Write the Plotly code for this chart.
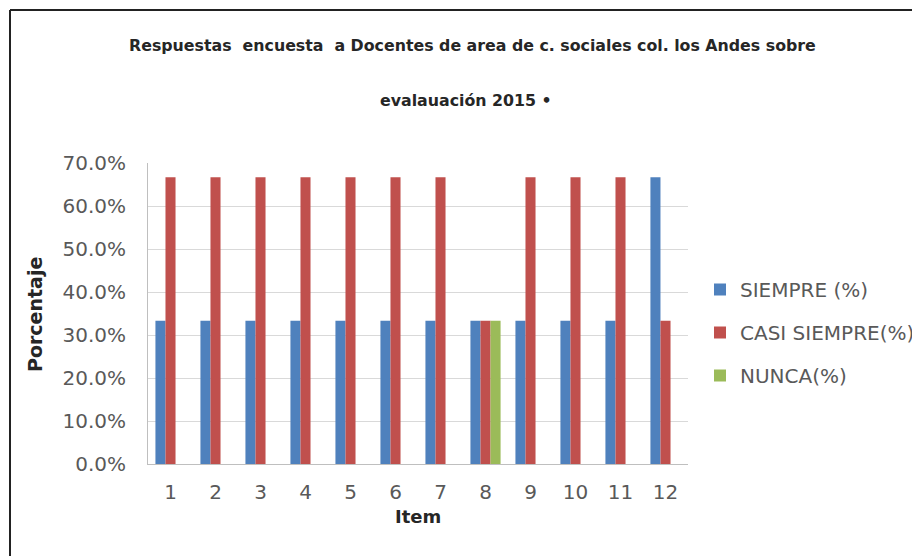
import plotly.graph_objects as go

items = [str(i) for i in range(1, 13)]
siempre = [0.333, 0.333, 0.333, 0.333, 0.333, 0.333, 0.333, 0.333, 0.333, 0.333, 0.333, 0.667]
casi_siempre = [0.667, 0.667, 0.667, 0.667, 0.667, 0.667, 0.667, 0.333, 0.667, 0.667, 0.667, 0.333]
nunca = [0, 0, 0, 0, 0, 0, 0, 0.333, 0, 0, 0, 0]
series_names = ["SIEMPRE (%)", "CASI SIEMPRE(%)", "NUNCA(%)"]
colors = ["#4F81BD", "#C0504D", "#9BBB59"]
yticks = [0, 0.1, 0.2, 0.3, 0.4, 0.5, 0.6, 0.7]

FONT = "DejaVu Sans"
TXT = "#595959"
DARK = "#262626"

# page body adds an 8px offset; work in screen pixels and subtract it
OFF = 8
W, H = 920 - OFF, 556 - OFF
L, R, T, B = 148 - OFF, 688 - OFF, 163 - OFF, 464 - OFF
pw, ph = R - L, B - T

def px(x):
    return (x - OFF - L) / pw

def py(y):
    return (B - (y - OFF)) / ph

fig = go.Figure()
for name, vals, col in zip(series_names, [siempre, casi_siempre, nunca], colors):
    fig.add_trace(go.Bar(x=items, y=vals, name=name, marker=dict(color=col, line=dict(width=0)),
                         legendgroup=name))

fig.update_layout(
    width=W, height=H,
    margin=dict(l=L, r=W - R, t=T, b=H - B, pad=0, autoexpand=False),
    paper_bgcolor="white", plot_bgcolor="white",
    barmode="group", bargap=0.33, bargroupgap=0,
    font=dict(family=FONT, color=TXT, size=20),
    legend=dict(x=px(700), y=py(270), xanchor="left", yanchor="top",
                font=dict(family=FONT, size=20, color=TXT),
                tracegroupgap=14, itemwidth=30, bgcolor="rgba(0,0,0,0)",
                entrywidth=140, entrywidthmode="pixels"),
    showlegend=True,
)
fig.update_xaxes(showgrid=False, showline=True, linecolor="#bfbfbf", linewidth=1,
                 ticks="outside", ticklen=10, tickcolor="white", automargin=False,
                 tickfont=dict(family=FONT, size=20, color=TXT))
fig.update_yaxes(range=[0, 0.7], tickvals=yticks, tickformat=".1%",
                 showgrid=True, gridcolor="#d9d9d9", gridwidth=1,
                 showline=True, linecolor="#bfbfbf", linewidth=1, zeroline=False,
                 ticks="outside", ticklen=17, tickcolor="white", automargin=False,
                 tickfont=dict(family=FONT, size=20, color=TXT))

fig.add_annotation(text="<b>Respuestas  encuesta  a Docentes de area de c. sociales col. los Andes sobre</b>",
                   xref="paper", yref="paper", x=px(472), y=py(45), showarrow=False,
                   font=dict(family=FONT, size=15.8, color=DARK), xanchor="center", yanchor="middle")
fig.add_annotation(text="<b>evalauación 2015 •</b>",
                   xref="paper", yref="paper", x=px(466), y=py(100), showarrow=False,
                   font=dict(family=FONT, size=15.8, color=DARK), xanchor="center", yanchor="middle")
fig.add_annotation(text="<b>Porcentaje</b>", textangle=-90,
                   xref="paper", yref="paper", x=px(35), y=py(315), showarrow=False,
                   font=dict(family=FONT, size=19, color=DARK), xanchor="center", yanchor="middle")
fig.add_annotation(text="<b>Item</b>",
                   xref="paper", yref="paper", x=px(418), y=py(516), showarrow=False,
                   font=dict(family=FONT, size=18, color=DARK), xanchor="center", yanchor="middle")

# frame lines (left and top)
fig.add_shape(type="line", xref="paper", yref="paper", x0=px(10), x1=px(10), y0=py(10), y1=py(556),
              line=dict(color="#222222", width=2))
fig.add_shape(type="line", xref="paper", yref="paper", x0=px(10), x1=px(920), y0=py(10), y1=py(10),
              line=dict(color="#222222", width=2))

fig.write_html("out.html")
